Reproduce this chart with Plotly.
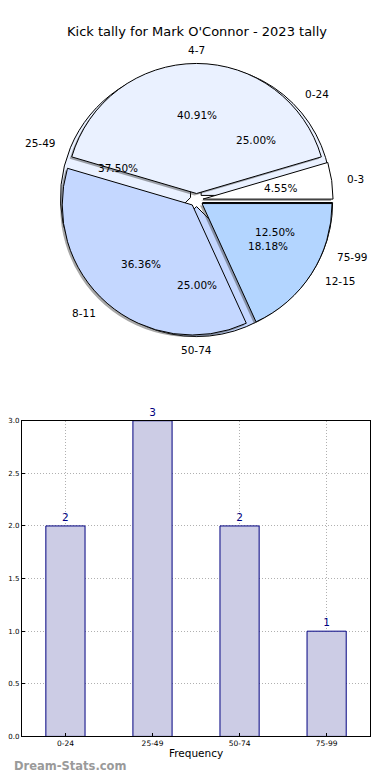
import math
import plotly.graph_objects as go

# ---------------- data ----------------
title_text = "Kick tally for Mark O'Connor - 2023 tally"

kick_labels = ["0-3", "4-7", "8-11", "12-15"]
kick_counts = [1, 9, 8, 4]

pct_labels = ["0-24", "25-49", "50-74", "75-99"]
pct_counts = [2, 3, 2, 1]

bar_labels = ["0-24", "25-49", "50-74", "75-99"]
bar_values = [2, 3, 2, 1]

# ---------------- styling ----------------
OFF = 8                      # page body margin
W, H = 390 - OFF, 780 - OFF  # figure size
FONT = "DejaVu Sans"
kick_colors = ["#FFFFFF", "#EAF1FF", "#C4D7FF", "#B3D5FF"]
pct_colors = ["#EAF1FF", "#EAF1FF", "#C4D7FF", "#B3D5FF"]
PULL = 0.05


def sx(px):  # screen x pixel -> paper
    return (px - OFF) / W


def sy(py):  # screen y pixel -> paper
    return 1 - (py - OFF) / H


# pie geometry (screen pixels)
cx_px, cy_px = 195, 198
box_px = 276
r_px = box_px / (2 + 2 * PULL)


def px_domain(cx, cy, size):
    return dict(x=[sx(cx - size / 2), sx(cx + size / 2)],
                y=[sy(cy + size / 2), sy(cy - size / 2)])


def start_rotation(values):
    # first slice begins at 3 o'clock and runs counter-clockwise
    return 90 - 360 * values[0] / sum(values)


fig = go.Figure()

common = dict(sort=False, direction="counterclockwise",
              textinfo="none", hoverinfo="label+percent", showlegend=False)

fig.add_trace(go.Pie(labels=pct_labels, values=pct_counts,
                     marker=dict(colors=pct_colors, line=dict(color="black", width=1)),
                     pull=[PULL] * len(pct_counts), rotation=start_rotation(pct_counts),
                     domain=px_domain(cx_px, cy_px, box_px), **common))
fig.add_trace(go.Pie(labels=kick_labels, values=kick_counts,
                     marker=dict(colors=["rgba(60,60,60,0.45)"] * len(kick_counts),
                                 line=dict(width=0)),
                     pull=[PULL] * len(kick_counts), rotation=start_rotation(kick_counts),
                     domain=px_domain(cx_px - 2, cy_px + 2, box_px), **common))
fig.add_trace(go.Pie(labels=kick_labels, values=kick_counts,
                     marker=dict(colors=kick_colors, line=dict(color="black", width=1)),
                     pull=[PULL] * len(kick_counts), rotation=start_rotation(kick_counts),
                     domain=px_domain(cx_px, cy_px, box_px), **common))

annotations = []


def pie_annotations(labels, values):
    total = sum(values)
    cum = 0
    for lab, v in zip(labels, values):
        th = 2 * math.pi * (cum + v / 2) / total
        cum += v
        c, s = math.cos(th), math.sin(th)
        d = (1.1 + PULL) * r_px
        annotations.append(dict(
            x=sx(cx_px + d * c), y=sy(cy_px - d * s),
            xref="paper", yref="paper", text=lab, showarrow=False,
            xanchor="left" if c > 0.01 else ("right" if c < -0.01 else "center"),
            yanchor="middle",
            font=dict(family=FONT, size=10.5, color="black")))
        d = (0.6 + PULL) * r_px
        annotations.append(dict(
            x=sx(cx_px + d * c), y=sy(cy_px - d * s),
            xref="paper", yref="paper", text=f"{100 * v / total:.2f}%",
            showarrow=False, xanchor="center", yanchor="middle",
            font=dict(family=FONT, size=10.5, color="black")))


pie_annotations(pct_labels, pct_counts)
pie_annotations(kick_labels, kick_counts)

annotations.append(dict(x=sx(195), y=sy(28), xref="paper", yref="paper",
                        text=title_text, showarrow=False,
                        xanchor="center", yanchor="middle",
                        font=dict(family=FONT, size=13, color="black")))

# ---------------- bar chart ----------------
fig.add_trace(go.Bar(x=bar_labels, y=bar_values, width=0.45,
                     marker=dict(color="#CCCCE5", line=dict(color="#000080", width=1)),
                     text=[str(v) for v in bar_values], textposition="outside",
                     constraintext="none", cliponaxis=False,
                     textfont=dict(family=FONT, size=10.5, color="#000080"),
                     showlegend=False, xaxis="x", yaxis="y"))

annotations.append(dict(x=sx(9), y=sy(770), xref="paper", yref="paper",
                        text="<b>Dream-Stats.com</b>", showarrow=False,
                        xanchor="left", yanchor="middle",
                        font=dict(family=FONT, size=11.5, color="#9a9a9a")))

GRID = dict(showgrid=True, gridcolor="#b0b0b0", griddash="1px,2px", gridwidth=1)

fig.update_layout(
    width=W, height=H,
    margin=dict(l=0, r=0, t=0, b=0),
    paper_bgcolor="white", plot_bgcolor="white",
    font=dict(family=FONT, color="black"),
    annotations=annotations,
    xaxis=dict(domain=[sx(19), sx(370)], anchor="y",
               range=[-0.5, len(bar_labels) - 0.5],
               showline=True, linecolor="black", linewidth=1, mirror=True,
               ticks="inside", ticklen=3, tickcolor="black",
               tickfont=dict(family=FONT, size=7.5, color="black"),
               title=dict(text="Frequency", font=dict(family=FONT, size=10.5, color="black"),
                          standoff=2),
               zeroline=False, **GRID),
    yaxis=dict(domain=[sy(740), sy(421)], anchor="x",
               range=[0, 3], dtick=0.5, tickformat=".1f",
               showline=True, linecolor="black", linewidth=1, mirror=True,
               ticks="inside", ticklen=3, tickcolor="black",
               tickfont=dict(family=FONT, size=7, color="black"),
               zeroline=False, **GRID),
)

fig.write_html("out.html")
